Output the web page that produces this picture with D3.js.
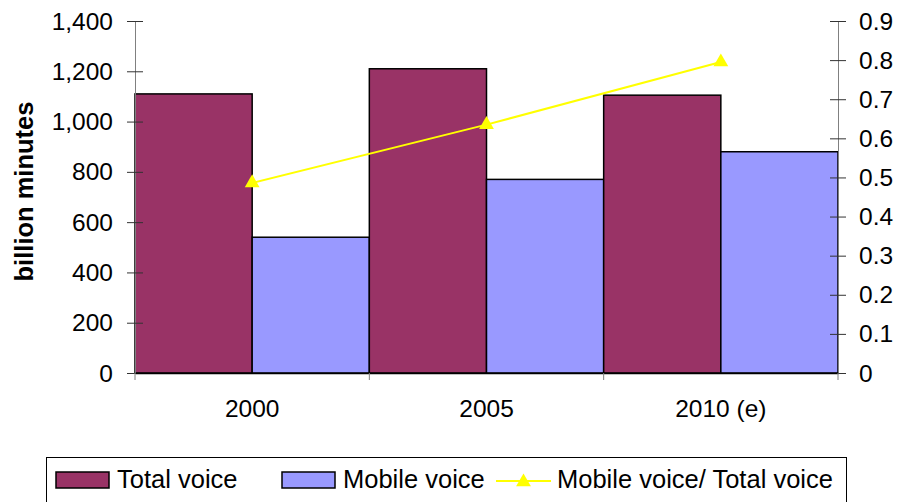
<!DOCTYPE html>
<html>
<head>
<meta charset="utf-8">
<script src="https://cdn.jsdelivr.net/npm/d3@7"></script>
<style>
  body { margin: 0; background: #fff; }
  svg { display: block; font-family: "Liberation Sans", Arial, sans-serif; }
</style>
</head>
<body>
<svg id="chart" width="900" height="502"></svg>
<script>
// values
const years = ["2000", "2005", "2010 (e)"];
const totalVoice = [1110, 1210, 1105];
const mobileVoice = [540, 770, 880];
const mobileShare = [0.486, 0.635, 0.795];
const leftTicks = [0, 200, 400, 600, 800, 1000, 1200, 1400];
const rightTicks = [0, 0.1, 0.2, 0.3, 0.4, 0.5, 0.6, 0.7, 0.8, 0.9];
const seriesNames = ["Total voice", "Mobile voice", "Mobile voice/ Total voice"];

const width = 900, height = 502;
const margin = {top: 21, right: 62, bottom: 129, left: 135};
const colors = {total: "#993366", mobile: "#9999ff", line: "#ffff00"};
const tickFont = 24.5, labelFont = 25.5;

const svg = d3.select("#chart");

const x = d3.scaleBand()
  .domain(years)
  .range([margin.left, width - margin.right])
  .padding(0);

const xs = d3.scaleBand()
  .domain(["total", "mobile"])
  .range([0, x.bandwidth()])
  .padding(0);

const y = d3.scaleLinear()
  .domain([0, 1400])
  .range([height - margin.bottom, margin.top]);

const y2 = d3.scaleLinear()
  .domain([0, 0.9])
  .range([height - margin.bottom, margin.top]);

const rows = years.map((yr, i) => ({year: yr, total: totalVoice[i], mobile: mobileVoice[i], share: mobileShare[i]}));

// bars
const groups = svg.append("g").selectAll("g")
  .data(rows)
  .join("g")
  .attr("transform", d => `translate(${x(d.year)},0)`);

groups.selectAll("rect")
  .data(d => [{k: "total", v: d.total}, {k: "mobile", v: d.mobile}])
  .join("rect")
  .attr("x", d => xs(d.k))
  .attr("y", d => y(d.v))
  .attr("width", xs.bandwidth())
  .attr("height", d => y(0) - y(d.v))
  .attr("fill", d => colors[d.k])
  .attr("stroke", "#000")
  .attr("stroke-width", 1.5);

// left axis
svg.append("g")
  .attr("transform", `translate(${margin.left},0)`)
  .call(d3.axisLeft(y).tickValues(leftTicks).tickSize(8).tickPadding(14).tickFormat(d3.format(",")))
  .call(g => g.select(".domain").attr("stroke", "#808080"))
  .call(g => g.selectAll(".tick line").attr("x1", 8).attr("stroke", "#333"))
  .call(g => g.selectAll(".tick text").attr("font-size", tickFont).attr("fill", "#000").attr("dy", "0.33em"))
  .attr("font-family", null);

// right axis
svg.append("g")
  .attr("transform", `translate(${width - margin.right},0)`)
  .call(d3.axisRight(y2).tickValues(rightTicks).tickSize(8).tickPadding(13).tickFormat(d => d === 0 ? "0" : d3.format(".1f")(d)))
  .call(g => g.select(".domain").attr("stroke", "#808080"))
  .call(g => g.selectAll(".tick line").attr("x1", -8).attr("stroke", "#333"))
  .call(g => g.selectAll(".tick text").attr("font-size", tickFont).attr("fill", "#000").attr("dy", "0.33em"))
  .attr("font-family", null);

// bottom axis
const xAxis = svg.append("g")
  .attr("transform", `translate(0,${height - margin.bottom})`)
  .call(d3.axisBottom(x).tickSize(0).tickPadding(27))
  .call(g => g.select(".domain").attr("stroke", "#000").attr("stroke-width", 1.5))
  .call(g => g.selectAll(".tick text").attr("font-size", tickFont).attr("fill", "#000"))
  .attr("font-family", null);

const edges = years.map(d => x(d)).concat([x(years[years.length - 1]) + x.bandwidth()]);
xAxis.selectAll(".edge")
  .data(edges)
  .join("line")
  .attr("class", "edge")
  .attr("x1", d => d).attr("x2", d => d)
  .attr("y1", 0).attr("y2", 7)
  .attr("stroke", "#808080");

// ratio line
const lineX = d => x(d.year) + x.bandwidth() / 2;
const line = d3.line()
  .x(lineX)
  .y(d => y2(d.share));

svg.append("path")
  .datum(rows)
  .attr("fill", "none")
  .attr("stroke", colors.line)
  .attr("stroke-width", 2)
  .attr("d", line);

const tri = d3.symbol().type(d3.symbolTriangle).size(95);
svg.append("g").selectAll("path")
  .data(rows)
  .join("path")
  .attr("transform", d => `translate(${lineX(d)},${y2(d.share)})`)
  .attr("d", tri)
  .attr("fill", colors.line);

// y label
svg.append("text")
  .attr("transform", "translate(33,191.5) rotate(-90)")
  .attr("text-anchor", "middle")
  .attr("font-size", labelFont)
  .attr("font-weight", "bold")
  .text("billion minutes");

// legend
const legend = svg.append("g");
legend.append("rect")
  .attr("x", 46.5).attr("y", 457.5)
  .attr("width", 800).attr("height", 60)
  .attr("fill", "#fff")
  .attr("stroke", "#000");

const swatches = [
  {name: seriesNames[0], color: colors.total, x: 56, tx: 117},
  {name: seriesNames[1], color: colors.mobile, x: 282, tx: 343}
];
swatches.forEach(s => {
  legend.append("rect")
    .attr("x", s.x).attr("y", 472)
    .attr("width", 53).attr("height", 16)
    .attr("fill", s.color)
    .attr("stroke", "#000")
    .attr("stroke-width", 1.5);
  legend.append("text")
    .attr("x", s.tx).attr("y", 487.5)
    .attr("font-size", labelFont)
    .text(s.name);
});

legend.append("line")
  .attr("x1", 496).attr("x2", 551)
  .attr("y1", 481).attr("y2", 481)
  .attr("stroke", colors.line)
  .attr("stroke-width", 2);
legend.append("path")
  .attr("transform", "translate(523.5,482)")
  .attr("d", tri)
  .attr("fill", colors.line);
legend.append("text")
  .attr("x", 557).attr("y", 487.5)
  .attr("font-size", labelFont)
  .text(seriesNames[2]);
</script>
</body>
</html>
